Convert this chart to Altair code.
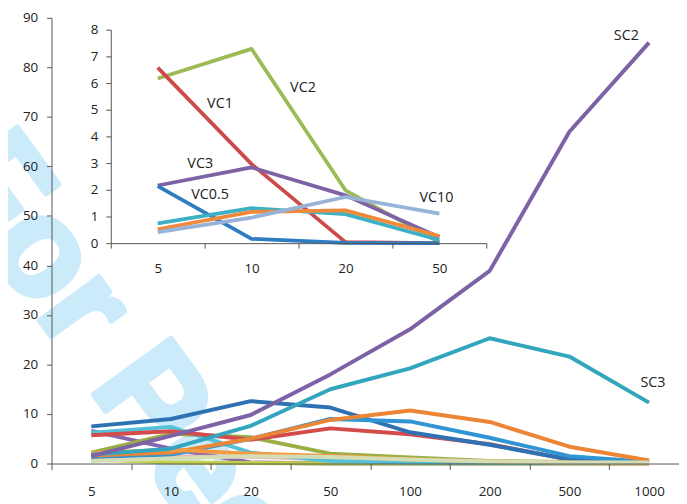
import altair as alt
import pandas as pd

# ---------------- data ----------------
main_x = ["5", "10", "20", "50", "100", "200", "500", "1000"]
inset_x = ["5", "10", "20", "50"]

# main chart series
sc2 = [1.5, 5.6, 9.8, 18.0, 27.1, 38.9, 67.0, 85.0]
sc3 = [1.8, 3.0, 7.6, 15.0, 19.2, 25.3, 21.6, 12.3]
dark_blue = [7.5, 9.0, 12.6, 11.3, 6.3, 3.8, 0.8, 0.3]
mid_blue = [1.3, 1.8, 5.0, 9.0, 8.5, 5.2, 1.5, 0.3]
orange = [1.6, 2.2, 5.0, 8.8, 10.7, 8.4, 3.4, 0.6]
red = [5.7, 6.5, 4.8, 7.1, 5.9, 3.9, 0.8, 0.3]
olive = [2.2, 6.0, 5.3, 2.0, 1.2, 0.5, 0.3, 0.2]
cyan = [6.2, 7.4, 2.2, 0.5, 0.2, 0.1, 0.1, 0.1]
purple2 = [6.6, 3.0, 0.2, 0.0, 0.0, 0.0, 0.0, 0.0]
light_orange = [2.1, 2.8, 2.0, 1.5, 0.8, 0.4, 0.2, 0.1]
lime = [0.8, 0.2, 0.1, 0.0, 0.0, 0.0, 0.0, 0.0]
pink = [1.0, 1.3, 1.4, 0.8, 0.4, 0.2, 0.1, 0.1]
beige = [0.5, 1.0, 1.5, 1.3, 0.8, 0.4, 0.2, 0.2]

main_names = ["purple2", "lime", "pink", "olive", "cyan", "red", "dark_blue",
              "mid_blue", "orange", "light_orange", "SC3", "SC2", "beige"]
main_values = [purple2, lime, pink, olive, cyan, red, dark_blue,
               mid_blue, orange, light_orange, sc3, sc2, beige]

# inset series
vc2 = [6.17, 7.28, 1.98, 0.03]
vc1 = [6.58, 2.96, 0.04, 0.0]
vc3 = [2.16, 2.84, 1.79, 0.22]
vc05 = [2.14, 0.16, 0.01, 0.0]
vc_teal = [0.74, 1.31, 1.09, 0.12]
vc_orange = [0.52, 1.17, 1.23, 0.27]
vc10 = [0.41, 0.96, 1.73, 1.11]

inset_names = ["VC2", "VC1", "VC3", "VC0.5", "teal", "orange", "VC10"]
inset_values = [vc2, vc1, vc3, vc05, vc_teal, vc_orange, vc10]

# ---------------- styles ----------------
main_colors = {
    "purple2": "#8467ad", "lime": "#c3d148", "pink": "#e6b8b6", "olive": "#9aae46",
    "cyan": "#55c1d9", "red": "#d34c4b", "dark_blue": "#2f72b3", "mid_blue": "#2f95d4",
    "orange": "#ec8535", "light_orange": "#f39a44", "SC3": "#33a6bd", "SC2": "#7d62a5",
    "beige": "#d5ddb5",
}
main_widths = {
    "purple2": 4, "lime": 4, "pink": 5, "olive": 4, "cyan": 4.5, "red": 4,
    "dark_blue": 4.5, "mid_blue": 4, "orange": 4, "light_orange": 6, "SC3": 4,
    "SC2": 4, "beige": 6.5,
}
inset_colors = {
    "VC2": "#9dbb55", "VC1": "#cc4a48", "VC3": "#7e62a6", "VC0.5": "#2f7dc1",
    "teal": "#3eb0c5", "orange": "#f08a3a", "VC10": "#97b4d8",
}

FONT = "Open Sans"
AX = "#555555"
TXT = "#222222"

rows = []
for name, vals in zip(main_names, main_values):
    for i, (c, v) in enumerate(zip(main_x, vals)):
        rows.append({"series": name, "x": c, "y": v, "i": i})
main_df = pd.DataFrame(rows)

rows = []
for name, vals in zip(inset_names, inset_values):
    for i, (c, v) in enumerate(zip(inset_x, vals)):
        rows.append({"series": name, "x": c, "y": v, "i": i})
inset_df = pd.DataFrame(rows)

W, H = 635, 451

# ---------------- main chart ----------------
main_xs = alt.Scale(type="band", domain=main_x, range=[0, 645], paddingInner=0, paddingOuter=0)
main_ys = alt.Scale(domain=[0, 90], nice=False)
main_xa = alt.Axis(title=None, labelAngle=0, tickBand="extent", tickSize=6, labelPadding=15,
                   domainColor=AX, tickColor=AX, labelColor=TXT, labelFont=FONT,
                   labelFontSize=13.5, grid=False, orient="bottom", zindex=1)
main_ya = alt.Axis(title=None, values=list(range(0, 91, 10)), tickSize=5, labelPadding=9,
                   domainColor=AX, tickColor=AX, labelColor=TXT, labelFont=FONT,
                   labelFontSize=13.5, grid=False, orient="left", zindex=1)

main_lines = alt.Chart(main_df).mark_line(strokeJoin="round").encode(
    x=alt.X("x:N", scale=main_xs, axis=main_xa),
    y=alt.Y("y:Q", scale=main_ys, axis=main_ya),
    color=alt.Color("series:N", scale=alt.Scale(domain=main_names,
                    range=[main_colors[n] for n in main_names]), legend=None),
    strokeWidth=alt.StrokeWidth("series:N", scale=alt.Scale(domain=main_names,
                    range=[main_widths[n] for n in main_names]), legend=None),
    order=alt.Order("i:Q"),
)

def label(df_src, name, cat, dx, dy, xs, ys, xa, ya):
    val = df_src[(df_src.series == name) & (df_src.x == cat)].y.iloc[0]
    d = pd.DataFrame({"x": [cat], "y": [val], "t": [name]})
    return alt.Chart(d).mark_text(dx=dx, dy=dy, font=FONT, fontSize=14.5, color=TXT,
                                  align="center", baseline="middle").encode(
        x=alt.X("x:N", scale=xs, axis=xa),
        y=alt.Y("y:Q", scale=ys, axis=ya),
        text="t:N",
    )

main_group = alt.layer(
    main_lines,
    label(main_df, "SC2", "1000", -23, -7, main_xs, main_ys, main_xa, main_ya),
    label(main_df, "SC3", "1000", 4, -20, main_xs, main_ys, main_xa, main_ya),
)

# ---------------- inset chart ----------------
inset_xs = alt.Scale(type="band", domain=inset_x, range=[60, 440], paddingInner=0, paddingOuter=0)
inset_ys = alt.Scale(domain=[0, 8], range=[228, 12], nice=False)
inset_xa = alt.Axis(title=None, labelAngle=0, tickBand="extent", tickSize=5, labelPadding=14,
                    domainColor=AX, tickColor=AX, labelColor=TXT, labelFont=FONT,
                    labelFontSize=13.5, grid=False, orient="bottom", offset=-223, zindex=1)
inset_ya = alt.Axis(title=None, values=list(range(0, 9)), tickSize=5, labelPadding=8,
                    domainColor=AX, tickColor=AX, labelColor=TXT, labelFont=FONT,
                    labelFontSize=13.5, grid=False, orient="left", offset=-60, zindex=1)

inset_lines = alt.Chart(inset_df).mark_line(strokeWidth=3.8, strokeJoin="round").encode(
    x=alt.X("x:N", scale=inset_xs, axis=inset_xa),
    y=alt.Y("y:Q", scale=inset_ys, axis=inset_ya),
    color=alt.Color("series:N", scale=alt.Scale(domain=inset_names,
                    range=[inset_colors[n] for n in inset_names]), legend=None),
    order=alt.Order("i:Q"),
)

inset_group = alt.layer(
    inset_lines,
    label(inset_df, "VC2", "10", 52, 40, inset_xs, inset_ys, inset_xa, inset_ya),
    label(inset_df, "VC1", "5", 63, 37, inset_xs, inset_ys, inset_xa, inset_ya),
    label(inset_df, "VC3", "5", 43, -22, inset_xs, inset_ys, inset_xa, inset_ya),
    label(inset_df, "VC0.5", "5", 53, 9, inset_xs, inset_ys, inset_xa, inset_ya),
    label(inset_df, "VC10", "50", -3, -16, inset_xs, inset_ys, inset_xa, inset_ya),
)

# ---------------- watermark ----------------
wm = alt.Chart(pd.DataFrame({"t": ["For Peer Review"]})).mark_text(
    font="Liberation Sans", fontWeight="bold", fontSize=140, color="#cbebfb",
    stroke="#cbebfb", strokeWidth=6, strokeJoin="round",
    angle=54, align="left", baseline="alphabetic",
).encode(x=alt.value(-118), y=alt.value(160), text="t:N")

chart = alt.layer(wm, main_group, inset_group).resolve_scale(
    x="independent", y="independent", color="independent", strokeWidth="independent"
).properties(
    width=W, height=H,
    autosize=alt.AutoSizeParams(type="none"),
    padding={"left": 44, "top": 7, "right": 0, "bottom": 38},
).configure_view(stroke=None)

chart.save("out.html", embed_options={"renderer": "svg", "actions": False})
